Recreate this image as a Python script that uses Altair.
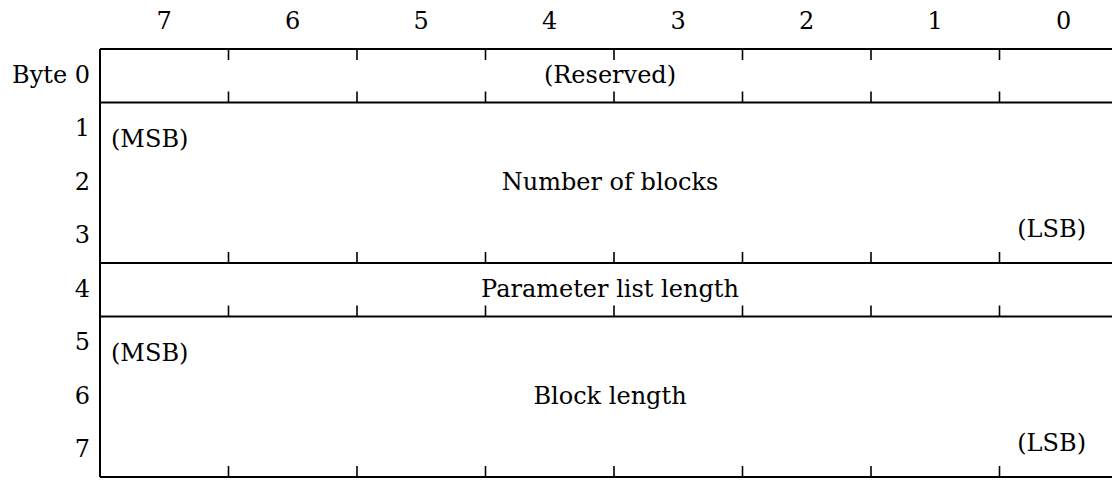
import altair as alt
import pandas as pd

# ---- data ----
bit_labels = ["7", "6", "5", "4", "3", "2", "1", "0"]
byte_labels = ["Byte 0", "1", "2", "3", "4", "5", "6", "7"]
field_names = ["(Reserved)", "Number of blocks", "Parameter list length", "Block length"]
field_first_byte = [0, 1, 4, 5]
field_last_byte = [0, 3, 4, 7]
msb_bytes = [1, 5]
lsb_bytes = [3, 7]

FONT = "DejaVu Serif"
FS = 24

# the table is wider than the visible area; its right end is clipped
xs = alt.Scale(domain=[0, 8], range=[0, 1028], nice=False, zero=False)
ys = alt.Scale(domain=[0, 8], range=[0, 428], nice=False, zero=False)

n_bits = len(bit_labels)
n_bytes = len(byte_labels)

bounds = [0] + [e + 1 for e in field_last_byte]
bottom_bounds = [e + 1 for e in field_last_byte]

h_df = pd.DataFrame({"b": bounds, "x0": 0, "x1": n_bits})
v_df = pd.DataFrame({"x": [0], "y0": [0], "y1": [n_bytes]})
col_bounds = list(range(1, n_bits))
top_tick_df = pd.DataFrame({"x": col_bounds, "y": 0})
bot_tick_df = pd.DataFrame(
    [{"x": c, "y": b} for b in bottom_bounds for c in col_bounds]
)
col_df = pd.DataFrame({"label": bit_labels, "col": list(range(n_bits))})
row_df = pd.DataFrame({"label": byte_labels, "row": list(range(n_bytes))})
field_df = pd.DataFrame({"name": field_names, "first": field_first_byte, "last": field_last_byte})
msb_df = pd.DataFrame({"row": msb_bytes, "t": "(MSB)"})
lsb_df = pd.DataFrame({"row": lsb_bytes, "t": "(LSB)"})

hlines = alt.Chart(h_df).mark_rule(color="black", strokeWidth=2, clip=False).encode(
    x=alt.X("x0:Q", scale=xs, axis=None),
    x2="x1:Q",
    y=alt.Y("b:Q", scale=ys, axis=None),
)

vline = alt.Chart(v_df).mark_rule(color="black", strokeWidth=2).encode(
    x=alt.X("x:Q", scale=xs, axis=None),
    y=alt.Y("y0:Q", scale=ys, axis=None),
    y2="y1:Q",
)

top_ticks = alt.Chart(top_tick_df).mark_rule(color="black", strokeWidth=1.6, y2Offset=11).encode(
    x=alt.X("x:Q", scale=xs, axis=None),
    y=alt.Y("y:Q", scale=ys, axis=None),
    y2="y:Q",
)

bot_ticks = alt.Chart(bot_tick_df).mark_rule(color="black", strokeWidth=1.6, y2Offset=-11).encode(
    x=alt.X("x:Q", scale=xs, axis=None),
    y=alt.Y("y:Q", scale=ys, axis=None),
    y2="y:Q",
)

col_text = alt.Chart(col_df).transform_calculate(
    xc="datum.col + 0.5", yc="0"
).mark_text(font=FONT, fontSize=FS, color="black", baseline="middle", align="center", dy=-27).encode(
    x=alt.X("xc:Q", scale=xs, axis=None),
    y=alt.Y("yc:Q", scale=ys, axis=None),
    text="label:N",
)

row_text = alt.Chart(row_df).transform_calculate(
    xc="0", yc="datum.row + 0.5"
).mark_text(font=FONT, fontSize=FS, color="black", baseline="middle", align="right", dx=-10).encode(
    x=alt.X("xc:Q", scale=xs, axis=None),
    y=alt.Y("yc:Q", scale=ys, axis=None),
    text="label:N",
)

field_text = alt.Chart(field_df).transform_calculate(
    xc=f"{n_bits} / 2", yc="(datum.first + datum.last + 1) / 2"
).mark_text(font=FONT, fontSize=FS, color="black", baseline="middle", align="center", dx=-4).encode(
    x=alt.X("xc:Q", scale=xs, axis=None),
    y=alt.Y("yc:Q", scale=ys, axis=None),
    text="name:N",
)

msb_text = alt.Chart(msb_df).transform_calculate(
    xc="0", yc="datum.row + 0.5"
).mark_text(font=FONT, fontSize=FS, color="black", baseline="middle", align="left", dx=11, dy=11).encode(
    x=alt.X("xc:Q", scale=xs, axis=None),
    y=alt.Y("yc:Q", scale=ys, axis=None),
    text="t:N",
)

lsb_text = alt.Chart(lsb_df).transform_calculate(
    xc=f"{n_bits}", yc="datum.row + 0.5"
).mark_text(font=FONT, fontSize=FS, color="black", baseline="middle", align="right", dx=-42, dy=-6).encode(
    x=alt.X("xc:Q", scale=xs, axis=None),
    y=alt.Y("yc:Q", scale=ys, axis=None),
    text="t:N",
)

chart = alt.layer(
    hlines, vline, top_ticks, bot_ticks, col_text, row_text, field_text, msb_text, lsb_text
).properties(
    width=1012,
    height=428,
    autosize=alt.AutoSizeParams(type="none"),
    padding={"left": 92, "top": 41, "right": 0, "bottom": 3},
    background="white",
).configure_view(stroke=None)

chart.save("out.html", embed_options={"renderer": "svg", "actions": False})
